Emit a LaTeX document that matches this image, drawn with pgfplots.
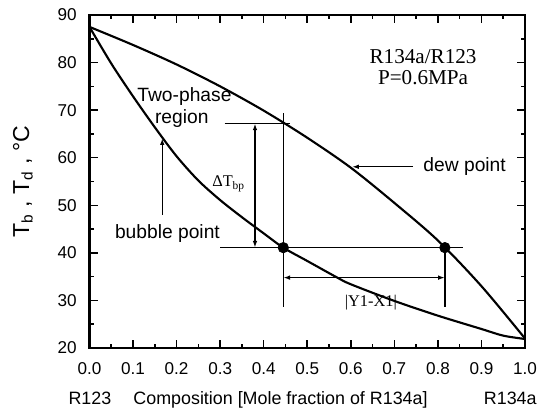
\documentclass[border=0pt]{standalone}
\usepackage{pgfplots}
\pgfplotsset{compat=1.18}
\usepackage{fontspec}
\setmainfont{Liberation Sans}
\newfontfamily\timesfont{Liberation Serif}
\usetikzlibrary{arrows.meta}

\begin{document}
\begin{tikzpicture}
\begin{axis}[
  width=226.5pt, height=173.2pt, scale only axis,
  xmin=0, xmax=1, ymin=20, ymax=90,
  xtick={0,0.1,0.2,0.3,0.4,0.5,0.6,0.7,0.8,0.9,1},
  ytick={20,30,40,50,60,70,80,90},
  minor x tick num=1, minor y tick num=1,
  tick align=inside,
  major tick length=4.3pt, minor tick length=2.3pt,
  every tick/.style={line width=0.8pt, black},
  axis line style={line width=1.1pt},
  /pgf/number format/assume math mode=true,
  x tick label style={/pgf/number format/.cd, fixed, fixed zerofill, precision=1, /tikz/.cd,
    font=\fontsize{8.9}{10}\selectfont, yshift=-4pt},
  y tick label style={font=\fontsize{8.9}{10}\selectfont, xshift=-3.2pt},
  ylabel={T\textsubscript{b} ,\ T\textsubscript{d} ,\ \textdegree C},
  ylabel style={at={(axis description cs:-0.153,0.5)}, anchor=center, font=\fontsize{12}{14}\selectfont},
  clip=false,
]
% dew point curve
\addplot[line width=1.1pt, smooth, no markers] coordinates {
  (0,87.5) (0.1,83.7) (0.2,79.6) (0.3,75.0) (0.4,69.9) (0.5,64.2)
  (0.6,57.9) (0.7,50.5) (0.8,42.6) (0.9,33.0) (1.0,22.0)
};
% bubble point curve
\addplot[line width=1.1pt, smooth, no markers] coordinates {
  (0,87.5) (0.05,79.8) (0.1,72.9) (0.15,66.4) (0.2,60.3) (0.25,55.2)
  (0.3,51.1) (0.35,47.5) (0.4,44.1) (0.445,41.1) (0.5,38.3) (0.567,34.9)
  (0.6,33.4) (0.7,29.9) (0.8,26.8) (0.9,24.0) (0.95,22.6) (1.0,21.9)
};
% tie points
\addplot[only marks, mark=*, mark size=2.7pt, black] coordinates {(0.445,41.1) (0.816,41.1)};

% guide lines
\draw[line width=0.7pt] (axis cs:0.31,67.2) -- (axis cs:0.46,67.2);
\draw[line width=0.7pt] (axis cs:0.30,41.1) -- (axis cs:0.858,41.1);
\draw[line width=0.7pt] (axis cs:0.445,69.4) -- (axis cs:0.445,28.55);
\draw[line width=0.7pt] (axis cs:0.816,41.1) -- (axis cs:0.816,28.55);
% delta T arrow
\draw[line width=0.7pt, {Latex[length=3.5pt,width=2.4pt]}-{Latex[length=3.5pt,width=2.4pt]}]
  (axis cs:0.38,67.2) -- (axis cs:0.38,41.1);
% |Y1-X1| arrow
\draw[line width=0.7pt, {Latex[length=3.5pt,width=2.4pt]}-{Latex[length=3.5pt,width=2.4pt]}]
  (axis cs:0.445,34.8) -- (axis cs:0.816,34.8);
% bubble point arrow
\draw[line width=0.7pt, -{Latex[length=3.5pt,width=2.4pt]}] (axis cs:0.167,48.0) -- (axis cs:0.167,64.1);
% dew point arrow
\draw[line width=0.7pt, -{Latex[length=3.5pt,width=2.4pt]}] (axis cs:0.743,58.1) -- (axis cs:0.603,58.1);

% texts
\node[anchor=base, font=\fontsize{10}{12}\selectfont] at (axis cs:0.218,71.9) {Two-phase};
\node[anchor=base, font=\fontsize{10}{12}\selectfont] at (axis cs:0.212,67.15) {region};
\node[anchor=base, font=\fontsize{10}{12}\selectfont] at (axis cs:0.179,43.05) {bubble point};
\node[anchor=base west, font=\fontsize{10}{12}\selectfont, inner sep=0pt] at (axis cs:0.766,57.05) {dew point};
\node[anchor=base, font=\timesfont\fontsize{11}{13}\selectfont] at (axis cs:0.766,79.85) {R134a/R123};
\node[anchor=base, font=\timesfont\fontsize{11}{13}\selectfont] at (axis cs:0.766,75.3) {P=0.6MPa};
\node[anchor=base west, inner sep=0pt, font=\timesfont\fontsize{8.5}{10}\selectfont] at (axis cs:0.281,53.9) {ΔT\textsubscript{bp}};
\node[anchor=base, inner sep=0pt, font=\timesfont\fontsize{8.5}{10}\selectfont] at (axis cs:0.646,28.8) {|Y1-X1|};

% x axis description
\node[anchor=base west, inner sep=0pt, font=\fontsize{9.3}{11}\selectfont, yshift=-29.6pt] at (axis description cs:-0.049,0) {R123};
\node[anchor=base west, inner sep=0pt, font=\fontsize{9.3}{11}\selectfont, yshift=-29.6pt] at (axis description cs:0.1,0) {Composition [Mole fraction of R134a]};
\node[anchor=base east, inner sep=0pt, font=\fontsize{9.3}{11}\selectfont, yshift=-29.6pt] at (axis description cs:1.0275,0) {R134a};

\coordinate (BL) at (rel axis cs:0,0);
\coordinate (TR) at (rel axis cs:1,1);
\end{axis}
\pgfresetboundingbox
\path[use as bounding box] ([shift={(-46.54pt,-31.72pt)}]BL) rectangle ([shift={(12.48pt,7.8pt)}]TR);
\end{tikzpicture}
\end{document}
